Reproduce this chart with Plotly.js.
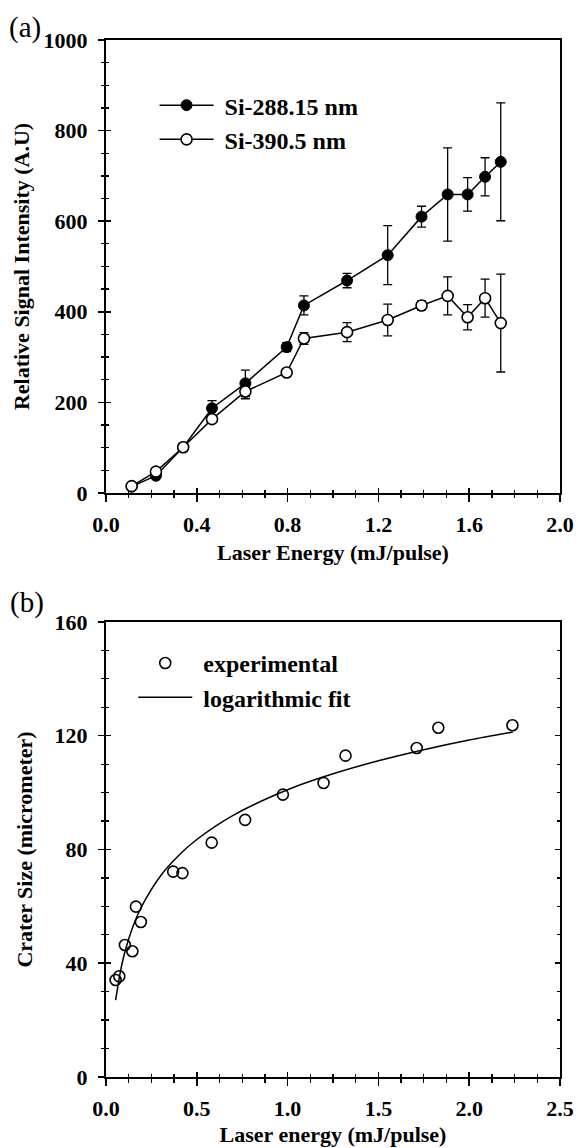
<!DOCTYPE html>
<html>
<head>
<meta charset="utf-8">
<script src="https://cdn.plot.ly/plotly-3.0.1.min.js"></script>
<style>html,body{margin:0;padding:0;background:#fff;}</style>
</head>
<body>
<div id="chart" style="width:578px;height:1148px;"></div>
<script>
// ---- Panel (a) data ----
const energyA = [0.113, 0.22, 0.34, 0.467, 0.614, 0.796, 0.872, 1.062, 1.241, 1.39, 1.505, 1.593, 1.670, 1.739];
const si288 = [14, 38, 101, 187, 242, 322, 414, 469, 525, 610, 659, 659, 698, 731];
const si288Err = [5, 6, 9, 17, 29, 10, 21, 16, 65, 23, 103, 37, 42, 130];
const si390 = [15, 47, 101, 163, 224, 266, 341, 355, 382, 414, 435, 388, 430, 375];
const si390Err = [4, 5, 6, 4, 16, 3, 13, 21, 35, 10, 42, 28, 42, 108];

// ---- Panel (b) data ----
const energyB = [0.053, 0.073, 0.104, 0.145, 0.165, 0.192, 0.37, 0.421, 0.582, 0.766, 0.974, 1.198, 1.319, 1.711, 1.830, 2.238];
const craterSize = [34.1, 35.4, 46.4, 44.2, 59.9, 54.5, 72.2, 71.7, 82.4, 90.4, 99.3, 103.4, 113.0, 115.7, 122.8, 123.7];
const fitEnergy = [0.053, 0.08, 0.1, 0.15, 0.2, 0.3, 0.4, 0.5, 0.7, 1.0, 1.25, 1.5, 1.75, 2.0, 2.24];
const fitSize = [27, 37.3, 43, 53.2, 60.4, 70.7, 77.9, 83.5, 92, 101, 106.6, 111.2, 115.1, 118.5, 121.3];

const FAM = 'Liberation Serif, Times New Roman, serif';
const bold = (s) => ({family: FAM, size: s, color: '#000', weight: 'bold'});
const NB = '\u00a0';

const traces = [
  {x: energyA, y: si288, name: NB + 'Si-288.15 nm', xaxis: 'x', yaxis: 'y', mode: 'lines+markers',
   line: {color: '#000', width: 1.5}, marker: {symbol: 'circle', size: 11, color: '#000', line: {color: '#000', width: 1}},
   error_y: {type: 'data', array: si288Err, visible: true, color: '#000', thickness: 1.3, width: 4.5}, legend: 'legend'},
  {x: energyA, y: si390, name: NB + 'Si-390.5 nm', xaxis: 'x', yaxis: 'y', mode: 'lines+markers',
   line: {color: '#000', width: 1.5}, marker: {symbol: 'circle', size: 11, color: '#fff', line: {color: '#000', width: 1.6}},
   error_y: {type: 'data', array: si390Err, visible: true, color: '#000', thickness: 1.3, width: 4.5}, legend: 'legend'},
  {x: energyB, y: craterSize, name: NB + 'experimental', xaxis: 'x2', yaxis: 'y2', mode: 'markers',
   marker: {symbol: 'circle-open', size: 11, color: '#000', line: {width: 1.6}}, legend: 'legend2'},
  {x: fitEnergy, y: fitSize, name: NB + 'logarithmic fit', xaxis: 'x2', yaxis: 'y2', mode: 'lines',
   line: {color: '#000', width: 1.5, shape: 'spline', smoothing: 0.8}, legend: 'legend2'},
  // empty helpers so the overlay tick axes get drawn
  {x: [], y: [], xaxis: 'x3', yaxis: 'y', showlegend: false, hoverinfo: 'skip'},
  {x: [], y: [], xaxis: 'x', yaxis: 'y3', showlegend: false, hoverinfo: 'skip'},
  {x: [], y: [], xaxis: 'x4', yaxis: 'y2', showlegend: false, hoverinfo: 'skip'},
  {x: [], y: [], xaxis: 'x2', yaxis: 'y4', showlegend: false, hoverinfo: 'skip'}
];

const domA = [0.5632, 1];
const domB = [0, 0.4388];

const baseX = (range, dtick, minor) => ({
  range: range, autorange: false, tick0: 0, dtick: dtick, tickformat: '.1f',
  ticks: 'outside', ticklen: 7, tickwidth: 1.5, tickcolor: '#000',
  minor: {dtick: minor, tick0: 0, ticks: 'outside', ticklen: 3.5, tickwidth: 1.3, tickcolor: '#000'},
  showline: true, linewidth: 2, linecolor: '#000', mirror: true,
  showgrid: false, zeroline: false, tickfont: bold(22), ticklabelstandoff: 4, fixedrange: true
});
const baseY = (range, dtick, minor) => ({
  range: range, autorange: false, tick0: 0, dtick: dtick,
  ticks: 'outside', ticklen: 6, tickwidth: 1.5, tickcolor: '#000',
  minor: {dtick: minor, tick0: 0, ticks: 'outside', ticklen: 3.5, tickwidth: 1.3, tickcolor: '#000'},
  showline: true, linewidth: 2, linecolor: '#000', mirror: true,
  showgrid: false, zeroline: false, tickfont: bold(22), ticklabelstandoff: 6, fixedrange: true
});
const overlayTicks = (ov, anchor, range, dtick, minor, mirror) => ({
  overlaying: ov, anchor: anchor, range: range, autorange: false, tick0: 0, dtick: dtick,
  ticks: 'inside', ticklen: 5, tickwidth: 1.5, tickcolor: '#000',
  minor: {dtick: minor, tick0: 0, ticks: 'inside', ticklen: 3, tickwidth: 1.3, tickcolor: '#000'},
  showticklabels: false, showline: false, showgrid: false, zeroline: false,
  mirror: mirror ? 'ticks' : false, fixedrange: true
});

const xa = Object.assign(baseX([0, 2], 0.4, 0.1), {domain: [0, 1], anchor: 'y',
  title: {text: 'Laser Energy (mJ/pulse)', font: bold(22), standoff: 8}});
const ya = Object.assign(baseY([0, 1000], 200, 50), {domain: domA, anchor: 'x',
  title: {text: 'Relative Signal Intensity (A.U)', font: bold(22), standoff: 8}});
const xb = Object.assign(baseX([0, 2.5], 0.5, 0.125), {domain: [0, 1], anchor: 'y2',
  title: {text: 'Laser energy (mJ/pulse)', font: bold(22), standoff: 6}});
const yb = Object.assign(baseY([0, 160], 40, 10), {domain: domB, anchor: 'x2',
  title: {text: 'Crater Size (micrometer)', font: bold(22), standoff: 16}});

const layout = {
  width: 578, height: 1148,
  margin: {l: 106, r: 18, t: 40, b: 71},
  paper_bgcolor: '#fff', plot_bgcolor: '#fff',
  font: {family: FAM, color: '#000'},
  xaxis: xa, yaxis: ya, xaxis2: xb, yaxis2: yb,
  xaxis3: overlayTicks('x', 'y', [0, 2], 0.4, 0.1, false),
  yaxis3: overlayTicks('y', 'x', [0, 1000], 200, 50, false),
  xaxis4: overlayTicks('x2', 'y2', [0, 2.5], 0.5, 0.125, false),
  yaxis4: overlayTicks('y2', 'x2', [0, 160], 40, 10, true),
  legend: {x: 0.107, y: 0.9585, xanchor: 'left', yanchor: 'top', font: bold(24),
    bgcolor: 'rgba(0,0,0,0)', borderwidth: 0, itemwidth: 54, tracegroupgap: 0},
  legend2: {x: 0.06, y: 0.4205, xanchor: 'left', yanchor: 'top', font: bold(24),
    bgcolor: 'rgba(0,0,0,0)', borderwidth: 0, itemwidth: 54, tracegroupgap: 0},
  annotations: [
    {text: '(a)', xref: 'paper', yref: 'paper', x: -0.178, y: 1.0116, xanchor: 'center', yanchor: 'middle',
     showarrow: false, font: {family: FAM, size: 29, color: '#000'}},
    {text: '(b)', xref: 'paper', yref: 'paper', x: -0.174, y: 0.458, xanchor: 'center', yanchor: 'middle',
     showarrow: false, font: {family: FAM, size: 29, color: '#000'}}
  ],
  showlegend: true
};

Plotly.newPlot('chart', traces, layout, {staticPlot: true, displayModeBar: false});
</script>
</body>
</html>
